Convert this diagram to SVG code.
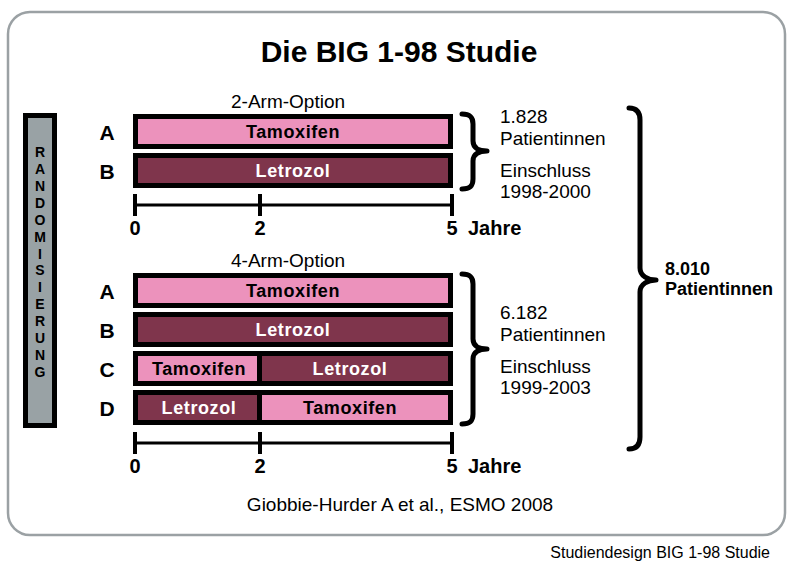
<svg xmlns="http://www.w3.org/2000/svg" width="787" height="564" viewBox="0 0 787 564">
<style>
text{font-family:"Liberation Sans",Arial,sans-serif;fill:#000}
.b{font-weight:bold}
.n{font-size:19px}
.lt{font-size:21px;font-weight:bold;text-anchor:middle}
.bar{stroke:#000;stroke-width:5}
.pk{fill:#ec92bc}
.dk{fill:#7f354c}
.bt{font-size:18px;font-weight:bold;text-anchor:middle;letter-spacing:0.6px}
.w{fill:#fff}
.ax{stroke:#000;stroke-width:3;fill:none}
.tk{stroke:#000;stroke-width:4}
.num{font-size:20px;font-weight:bold;text-anchor:middle}
.brace{fill:none;stroke:#000;stroke-width:5;stroke-linecap:round;stroke-linejoin:round}
.rl{font-size:14px;font-weight:bold;text-anchor:middle}
</style>
<rect x="8" y="12" width="777" height="523" rx="22" fill="#fff" stroke="#9ba1a4" stroke-width="2.5"/>
<g id="title"><text x="399" y="62" class="b" font-size="30" text-anchor="middle">Die BIG 1-98 Studie</text></g>
<g id="randomisierung">
<rect x="25.5" y="115.5" width="29" height="310" fill="#99a2a5" stroke="#000" stroke-width="5"/>
<text class="rl" x="40" y="157">R</text>
<text class="rl" x="40" y="173.9">A</text>
<text class="rl" x="40" y="190.8">N</text>
<text class="rl" x="40" y="207.8">D</text>
<text class="rl" x="40" y="224.7">O</text>
<text class="rl" x="40" y="241.6">M</text>
<text class="rl" x="40" y="258.5">I</text>
<text class="rl" x="40" y="275.4">S</text>
<text class="rl" x="40" y="292.4">I</text>
<text class="rl" x="40" y="309.3">E</text>
<text class="rl" x="40" y="326.2">R</text>
<text class="rl" x="40" y="343.1">U</text>
<text class="rl" x="40" y="360">N</text>
<text class="rl" x="40" y="377">G</text>
</g>
<g id="two-arm">
<text class="n" x="288" y="108" text-anchor="middle">2-Arm-Option</text>
<g id="arm2-A">
<text class="lt" x="107" y="139.5">A</text>
<rect class="bar pk" x="135.5" y="116.5" width="315" height="30"/>
<text class="bt" x="293" y="138">Tamoxifen</text>
</g>
<g id="arm2-B">
<text class="lt" x="107" y="178.5">B</text>
<rect class="bar dk" x="135.5" y="155.5" width="315" height="30"/>
<text class="bt w" x="293" y="177">Letrozol</text>
</g>
<g id="axis2">
<line class="ax" x1="135" y1="205" x2="452" y2="205"/>
<line class="tk" x1="135" y1="194" x2="135" y2="216"/>
<line class="tk" x1="260" y1="194" x2="260" y2="216"/>
<line class="tk" x1="452" y1="194" x2="452" y2="216"/>
<text class="num" x="135" y="235">0</text>
<text class="num" x="260" y="235">2</text>
<text class="num" x="452" y="235">5</text>
<text class="b" font-size="20" x="468" y="235">Jahre</text>
</g>
<g id="info2">
<text class="n" x="500" y="123">1.828</text>
<text class="n" x="500" y="145">Patientinnen</text>
<text class="n" x="500" y="177">Einschluss</text>
<text class="n" x="500" y="198">1998-2000</text>
</g>
</g>
<g id="four-arm">
<text class="n" x="288" y="267" text-anchor="middle">4-Arm-Option</text>
<g id="arm4-A">
<text class="lt" x="107" y="298.5">A</text>
<rect class="bar pk" x="135.5" y="275.5" width="315" height="30"/>
<text class="bt" x="293" y="297">Tamoxifen</text>
</g>
<g id="arm4-B">
<text class="lt" x="107" y="337.5">B</text>
<rect class="bar dk" x="135.5" y="314.5" width="315" height="30"/>
<text class="bt w" x="293" y="336">Letrozol</text>
</g>
<g id="arm4-C">
<text class="lt" x="107" y="376.5">C</text>
<rect class="bar pk" x="135.5" y="353.5" width="124" height="30"/>
<rect class="bar dk" x="259.5" y="353.5" width="191" height="30"/>
<text class="bt" x="199" y="375">Tamoxifen</text>
<text class="bt w" x="350" y="375">Letrozol</text>
</g>
<g id="arm4-D">
<text class="lt" x="107" y="415.5">D</text>
<rect class="bar dk" x="135.5" y="392.5" width="124" height="30"/>
<rect class="bar pk" x="259.5" y="392.5" width="191" height="30"/>
<text class="bt w" x="199" y="414">Letrozol</text>
<text class="bt" x="350" y="414">Tamoxifen</text>
</g>
<g id="axis4">
<line class="ax" x1="135" y1="443" x2="452" y2="443"/>
<line class="tk" x1="135" y1="432" x2="135" y2="454"/>
<line class="tk" x1="260" y1="432" x2="260" y2="454"/>
<line class="tk" x1="452" y1="432" x2="452" y2="454"/>
<text class="num" x="135" y="473">0</text>
<text class="num" x="260" y="473">2</text>
<text class="num" x="452" y="473">5</text>
<text class="b" font-size="20" x="468" y="473">Jahre</text>
</g>
<g id="info4">
<text class="n" x="500" y="319">6.182</text>
<text class="n" x="500" y="341">Patientinnen</text>
<text class="n" x="500" y="373">Einschluss</text>
<text class="n" x="500" y="394">1999-2003</text>
</g>
</g>
<g id="connectors">
<path class="brace" d="M462,114 C470,114 473,117 473,124 L473,141 C473,148 479,151 487,151 C479,151 473,154 473,161 L473,179 C473,186 470,189 462,189"/>
<path class="brace" d="M462,274 C470,274 473,277 473,284 L473,339 C473,346 479,349 487,349 C479,349 473,352 473,359 L473,414 C473,421 470,424 462,424"/>
<path class="brace" d="M629,108 C636,108 640,112 640,120 L640,268 C640,276 648,280 656,280 C648,280 640,284 640,292 L640,437 C640,445 636,449 629,449"/>
</g>
<g id="total">
<text class="b" font-size="18" x="665" y="275">8.010</text>
<text class="b" font-size="18" x="665" y="295">Patientinnen</text>
</g>
<g id="source"><text class="n" x="400" y="511" text-anchor="middle">Giobbie-Hurder A et al., ESMO 2008</text></g>
<g id="caption"><text x="770" y="558" font-size="16" text-anchor="end">Studiendesign BIG 1-98 Studie</text></g>
</svg>
